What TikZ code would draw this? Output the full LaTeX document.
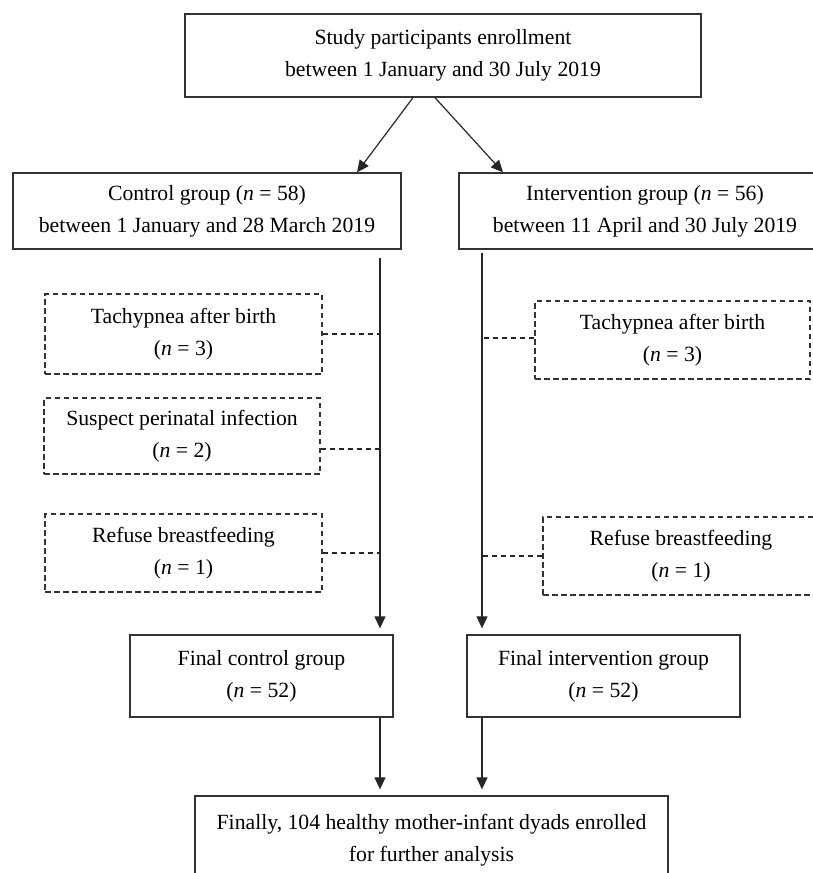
\documentclass[tikz,border=0pt]{standalone}
\usepackage{fontspec}
\setmainfont{Liberation Serif}
\usetikzlibrary{arrows.meta,calc}
\begin{document}
\begin{tikzpicture}[x=1pt,y=-1pt,
 box/.style={draw=black!80,line width=1.3pt,rectangle,align=center,inner sep=0pt,font=\fontsize{21.7}{32}\selectfont},
 dbox/.style={box,dash pattern=on 5.5pt off 3.5pt},
 arr/.style={draw=black!85,line width=1.2pt,-{Triangle[length=12pt,width=11pt]}},
 ln/.style={draw=black!85,line width=1.2pt},
 dln/.style={ln,dash pattern=on 5.5pt off 3.5pt}]
\clip (0,0) rectangle (813,873);
\node[box,minimum width=516pt,minimum height=83pt] (top) at (443,55.5) {Study participants enrollment\\between 1 January and 30 July 2019};
\node[box,minimum width=388pt,minimum height=76pt] (ctl) at (207,211) {Control group (\textit{n} = 58)\\between 1 January and 28 March 2019};
\node[box,minimum width=372pt,minimum height=76pt] (int) at (645,211) {Intervention group (\textit{n} = 56)\\between 11 April and 30 July 2019};
\node[dbox,minimum width=277pt,minimum height=80pt] (t1) at (183.5,334) {Tachypnea after birth\\(\textit{n} = 3)};
\node[dbox,minimum width=276pt,minimum height=76pt] (s1) at (182,436) {Suspect perinatal infection\\(\textit{n} = 2)};
\node[dbox,minimum width=277pt,minimum height=78pt] (r1) at (183.5,553) {Refuse breastfeeding\\(\textit{n} = 1)};
\node[dbox,minimum width=275pt,minimum height=78pt] (t2) at (672.5,340) {Tachypnea after birth\\(\textit{n} = 3)};
\node[dbox,minimum width=276pt,minimum height=78pt] (r2) at (681,556) {Refuse breastfeeding\\(\textit{n} = 1)};
\node[box,minimum width=263pt,minimum height=82pt] (fc) at (261.5,676) {Final control group\\(\textit{n} = 52)};
\node[box,minimum width=273pt,minimum height=82pt] (fi) at (603.5,676) {Final intervention group\\(\textit{n} = 52)};
\node[box,minimum width=473pt,minimum height=88pt] (fin) at (431.5,840) {Finally, 104 healthy mother-infant dyads enrolled\\for further analysis};
% top arrows
\draw[arr] ($(top.south)+(-30,0)$) -- ($(ctl.north)+(150,0)$);
\draw[arr] ($(top.south)+(-8,0)$) -- ($(int.north)+(-142,0)$);
% vertical lines
\coordinate (cs) at (380,258);
\coordinate (is) at (482,253);
\draw[arr,shorten >=6pt] (cs) -- (fc.north -| cs);
\draw[arr,shorten >=6pt] (is) -- (fi.north -| is);
% dashed side connectors
\draw[dln] (t1.east) -- (t1.east -| cs);
\draw[dln] (s1.east) ++(0,13) coordinate (s1c) -- (s1c -| cs);
\draw[dln] (r1.east) -- (r1.east -| cs);
\draw[dln] (t2.west) ++(0,-2) coordinate (t2c) -- (t2c -| is);
\draw[dln] (r2.west) -- (r2.west -| is);
% bottom arrows
\draw[arr,shorten >=6pt] (fc.south -| cs) -- (fin.north -| cs);
\draw[arr,shorten >=6pt] (fi.south -| is) -- (fin.north -| is);
\end{tikzpicture}
\end{document}
